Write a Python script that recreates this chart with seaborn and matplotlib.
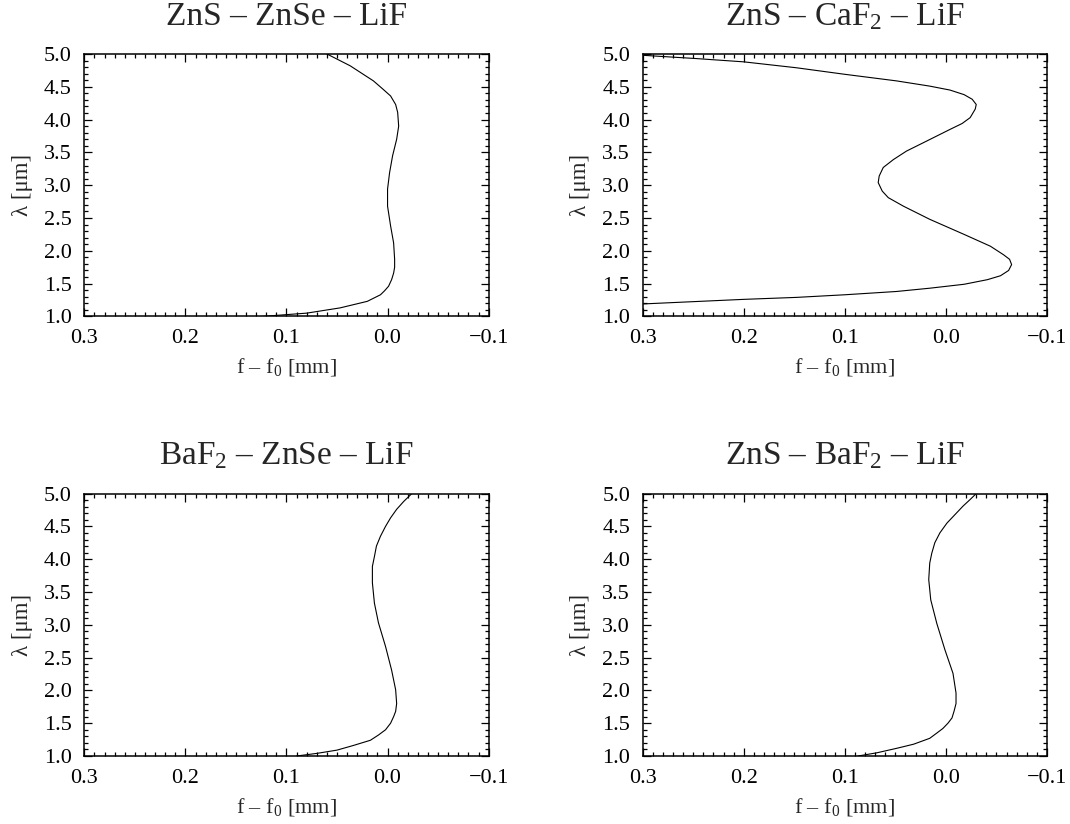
"""
Focal shift f - f0 versus wavelength for four lens triplet combinations.
"""

import matplotlib
matplotlib.use("Agg")
import matplotlib.pyplot as plt
import seaborn as sns
from matplotlib.ticker import MultipleLocator, FuncFormatter

# ZnS - ZnSe - LiF
lam_a = [5.00, 4.82, 4.70, 4.59, 4.47, 4.36, 4.23, 4.11, 3.90, 3.70, 3.45,
         3.19, 2.94, 2.68, 2.38, 2.12, 1.87, 1.75, 1.66, 1.56, 1.46, 1.39,
         1.33, 1.23, 1.13, 1.05, 1.00]
df_a = [0.060, 0.037, 0.025, 0.014, 0.005, -0.003, -0.008, -0.010, -0.011,
        -0.009, -0.005, -0.002, 0.000, 0.000, -0.003, -0.006, -0.007, -0.007,
        -0.006, -0.004, -0.001, 0.003, 0.007, 0.020, 0.047, 0.080, 0.124]

# ZnS - CaF2 - LiF
lam_b = [4.98, 4.93, 4.88, 4.79, 4.69, 4.59, 4.51, 4.45, 4.38, 4.31, 4.23,
         4.16, 4.03, 3.94, 3.85, 3.65, 3.52, 3.39, 3.27, 3.14, 3.04, 2.91,
         2.81, 2.68, 2.48, 2.25, 2.07, 1.94, 1.87, 1.79, 1.70, 1.62, 1.56,
         1.49, 1.43, 1.38, 1.33, 1.29, 1.26, 1.19]
df_b = [0.300, 0.247, 0.200, 0.148, 0.100, 0.049, 0.016, -0.004, -0.018,
        -0.026, -0.030, -0.029, -0.024, -0.016, -0.004, 0.022, 0.039, 0.052,
        0.062, 0.066, 0.067, 0.063, 0.057, 0.042, 0.016, -0.018, -0.044,
        -0.057, -0.063, -0.065, -0.062, -0.054, -0.041, -0.018, 0.016,
        0.049, 0.100, 0.148, 0.200, 0.300]

# BaF2 - ZnSe - LiF
lam_c = [5.00, 4.88, 4.76, 4.63, 4.50, 4.35, 4.20, 4.04, 3.89, 3.64, 3.33,
         3.03, 2.67, 2.31, 2.01, 1.80, 1.68, 1.60, 1.50, 1.40, 1.32, 1.24,
         1.16, 1.09, 1.04, 1.00]
df_c = [-0.024, -0.016, -0.009, -0.003, 0.002, 0.007, 0.011, 0.013, 0.015,
        0.015, 0.013, 0.009, 0.002, -0.004, -0.008, -0.009, -0.008, -0.006,
        -0.003, 0.002, 0.009, 0.017, 0.034, 0.050, 0.070, 0.090]

# ZnS - BaF2 - LiF
lam_d = [5.00, 4.91, 4.81, 4.68, 4.55, 4.40, 4.25, 4.09, 3.94, 3.69, 3.38,
         3.02, 2.62, 2.26, 1.96, 1.80, 1.68, 1.58, 1.50, 1.42, 1.35, 1.27,
         1.18, 1.12, 1.05, 1.00]
df_d = [-0.030, -0.024, -0.017, -0.009, -0.001, 0.006, 0.011, 0.014, 0.016,
        0.017, 0.015, 0.009, 0.001, -0.007, -0.010, -0.010, -0.008, -0.006,
        -0.002, 0.003, 0.009, 0.016, 0.032, 0.048, 0.068, 0.087]

titles = ["ZnS – ZnSe – LiF", "ZnS – CaF$_2$ – LiF",
          "BaF$_2$ – ZnSe – LiF", "ZnS – BaF$_2$ – LiF"]
panels = [(lam_a, df_a), (lam_b, df_b), (lam_c, df_c), (lam_d, df_d)]

sns.set_theme(style="ticks")
plt.rcParams["font.family"] = ["Liberation Serif", "DejaVu Serif"]
plt.rcParams["mathtext.fontset"] = "custom"
plt.rcParams["mathtext.rm"] = "Liberation Serif"
plt.rcParams["mathtext.it"] = "Liberation Serif:italic"

fig, axes = plt.subplots(2, 2, figsize=(10.70, 8.24), dpi=100)
fig.subplots_adjust(left=0.0788, right=0.9785, bottom=0.0825, top=0.9345,
                    wspace=0.381, hspace=0.675)

for ax, title, (lam, df) in zip(axes.flat, titles, panels):
    sns.lineplot(x=df, y=lam, sort=False, estimator=None, color="black",
                 linewidth=0.8, ax=ax)
    ax.set_xlim(0.3, -0.1)
    ax.set_ylim(1.0, 5.0)
    ax.xaxis.set_major_locator(MultipleLocator(0.1))
    ax.xaxis.set_minor_locator(MultipleLocator(0.01))
    ax.yaxis.set_major_locator(MultipleLocator(0.5))
    ax.yaxis.set_minor_locator(MultipleLocator(0.1))
    ax.xaxis.set_major_formatter(FuncFormatter(
        lambda v, p: f"{v:.1f}".replace("-", "\u2212")))
    ax.yaxis.set_major_formatter(FuncFormatter(lambda v, p: f"{v:.1f}"))
    ax.tick_params(which="both", direction="in", top=True, right=True,
                   colors="black", labelsize=16, width=0.9)
    ax.tick_params(which="major", length=6, pad=9)
    ax.tick_params(which="minor", length=3)
    for s in ax.spines.values():
        s.set_linewidth(1.1)
        s.set_color("black")
    ax.set_title(title, fontsize=24, pad=21)
    ax.set_xlabel("f – f$_0$ [mm]", fontsize=16, labelpad=6)
    ax.set_ylabel("λ [μm]", fontsize=16.5, labelpad=8)

plt.savefig("out.png", dpi=100)
